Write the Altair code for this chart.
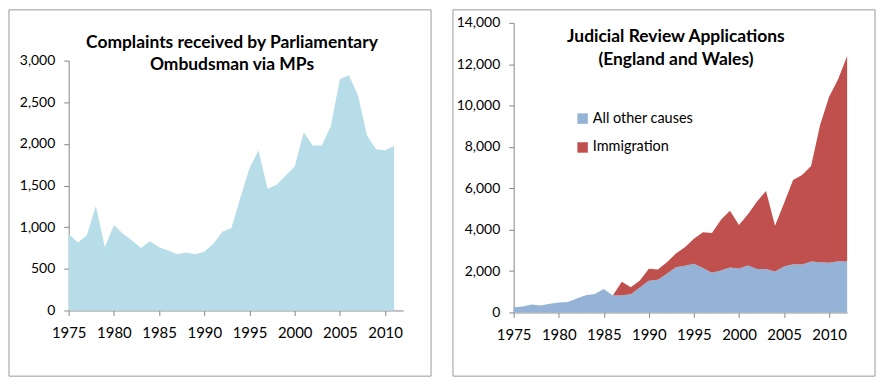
import altair as alt
import pandas as pd

# ---- data ----
left_years = list(range(1975, 2012))
left_complaints = [920, 815, 900, 1255, 760, 1025, 920, 840, 750, 830,
                   760, 720, 675, 695, 675, 705, 800, 945, 990, 1360,
                   1710, 1920, 1460, 1510, 1620, 1730, 2140, 1980, 1980, 2215,
                   2780, 2825, 2585, 2100, 1935, 1925, 1975]

right_years = list(range(1975, 2013))
other_causes = [255, 290, 385, 335, 415, 480, 510, 670, 830, 895,
                1135, 815, 830, 880, 1200, 1535, 1585, 1870, 2190, 2255,
                2350, 2145, 1920, 2030, 2175, 2130, 2270, 2095, 2095, 1985,
                2225, 2335, 2320, 2465, 2430, 2400, 2480, 2465]
immigration = [0, 0, 0, 0, 0, 0, 0, 0, 0, 0,
               0, 0, 655, 335, 350, 575, 495, 560, 655, 895,
               1215, 1730, 1920, 2450, 2735, 2095, 2480, 3265, 3775, 2210,
               3055, 4065, 4320, 4610, 6630, 8020, 8795, 9930]

series_names = ["All other causes", "Immigration"]
series_colors = ["#95b3d7", "#c0504d"]
left_title = ["Complaints received by Parliamentary", "Ombudsman via MPs"]
right_title = ["Judicial Review Applications", "(England and Wales)"]
year_ticks = [1975, 1980, 1985, 1990, 1995, 2000, 2005, 2010]
left_y_ticks = [0, 500, 1000, 1500, 2000, 2500, 3000]
right_y_ticks = [0, 2000, 4000, 6000, 8000, 10000, 12000, 14000]

left_df = pd.DataFrame({"year": left_years, "complaints": left_complaints})
right_df = pd.DataFrame({
    "year": right_years * 2,
    "value": other_causes + immigration,
    "series": [series_names[0]] * len(right_years) + [series_names[1]] * len(right_years),
    "order": [0] * len(right_years) + [1] * len(right_years),
})

FONT = "Lato"
AX = "#868686"
FRAME = "#9a9a9a"

WL, HL = 336, 289
WR, HR = 335, 291

def x_axis():
    return alt.Axis(values=year_ticks, format="d", title=None, grid=False,
                    labelFlush=False, labelFontSize=15, labelColor="#000",
                    labelFont=FONT, tickSize=5, labelPadding=10,
                    domainColor=AX, tickColor=AX)

def y_axis(vals):
    return alt.Axis(values=vals, format=",.0f", title=None, grid=False,
                    labelFlush=False, labelFontSize=14, labelColor="#000",
                    labelFont=FONT, tickSize=5, labelPadding=9,
                    domainColor=AX, tickColor=AX)

one = alt.Data(values=[{"k": 1}])

# ---- left panel ----
left_frame = alt.Chart(one).mark_rect(fillOpacity=0, stroke=FRAME, strokeWidth=1).encode(
    x=alt.value(-60), x2=alt.value(364), y=alt.value(-13), y2=alt.value(355))

left_area = alt.Chart(left_df).mark_area(color="#b7dde8", opacity=1).encode(
    x=alt.X("year:Q", scale=alt.Scale(domain=[1975, 2012], nice=False, zero=False), axis=x_axis()),
    y=alt.Y("complaints:Q", scale=alt.Scale(domain=[0, 3000], range=[HL, 38], nice=False),
            axis=y_axis(left_y_ticks)),
)

left_text = alt.Chart(one).mark_text(text=left_title, font=FONT, fontSize=17.5, fontWeight="bold",
                                     align="center", baseline="middle", lineHeight=22, color="#000").encode(
    x=alt.value(164), y=alt.value(20))

left = alt.layer(left_frame, left_area, left_text).properties(width=WL, height=HL)

# ---- right panel ----
right_frame = alt.Chart(one).mark_rect(fillOpacity=0, stroke=FRAME, strokeWidth=1).encode(
    x=alt.value(-61), x2=alt.value(363), y=alt.value(-13), y2=alt.value(355))

right_area = alt.Chart(right_df).mark_area(opacity=1).encode(
    x=alt.X("year:Q", scale=alt.Scale(domain=[1975, 2012], nice=False, zero=False), axis=x_axis()),
    y=alt.Y("value:Q", stack="zero", scale=alt.Scale(domain=[0, 14000], nice=False),
            axis=y_axis(right_y_ticks)),
    color=alt.Color("series:N", title=None,
                    scale=alt.Scale(domain=series_names, range=series_colors),
                    legend=alt.Legend(orient="none", legendX=62, legendY=89,
                                      symbolType="square", symbolSize=110,
                                      symbolStrokeWidth=0, labelFontSize=14.5,
                                      labelFont=FONT, labelColor="#000",
                                      rowPadding=14, labelOffset=3)),
    order=alt.Order("order:Q"),
)

right_text = alt.Chart(one).mark_text(text=right_title, font=FONT, fontSize=17.5, fontWeight="bold",
                                      align="center", baseline="middle", lineHeight=23, color="#000").encode(
    x=alt.value(163), y=alt.value(14))

right = alt.layer(right_frame, right_area, right_text).properties(width=WR, height=HR)

chart = alt.hconcat(left, right, spacing=20).resolve_scale(
    color="independent", x="independent", y="independent"
).resolve_legend(color="independent").properties(
    padding=0, background="white"
).configure_view(strokeWidth=0)

chart.save("out.html", embed_options={"renderer": "svg", "actions": False})
